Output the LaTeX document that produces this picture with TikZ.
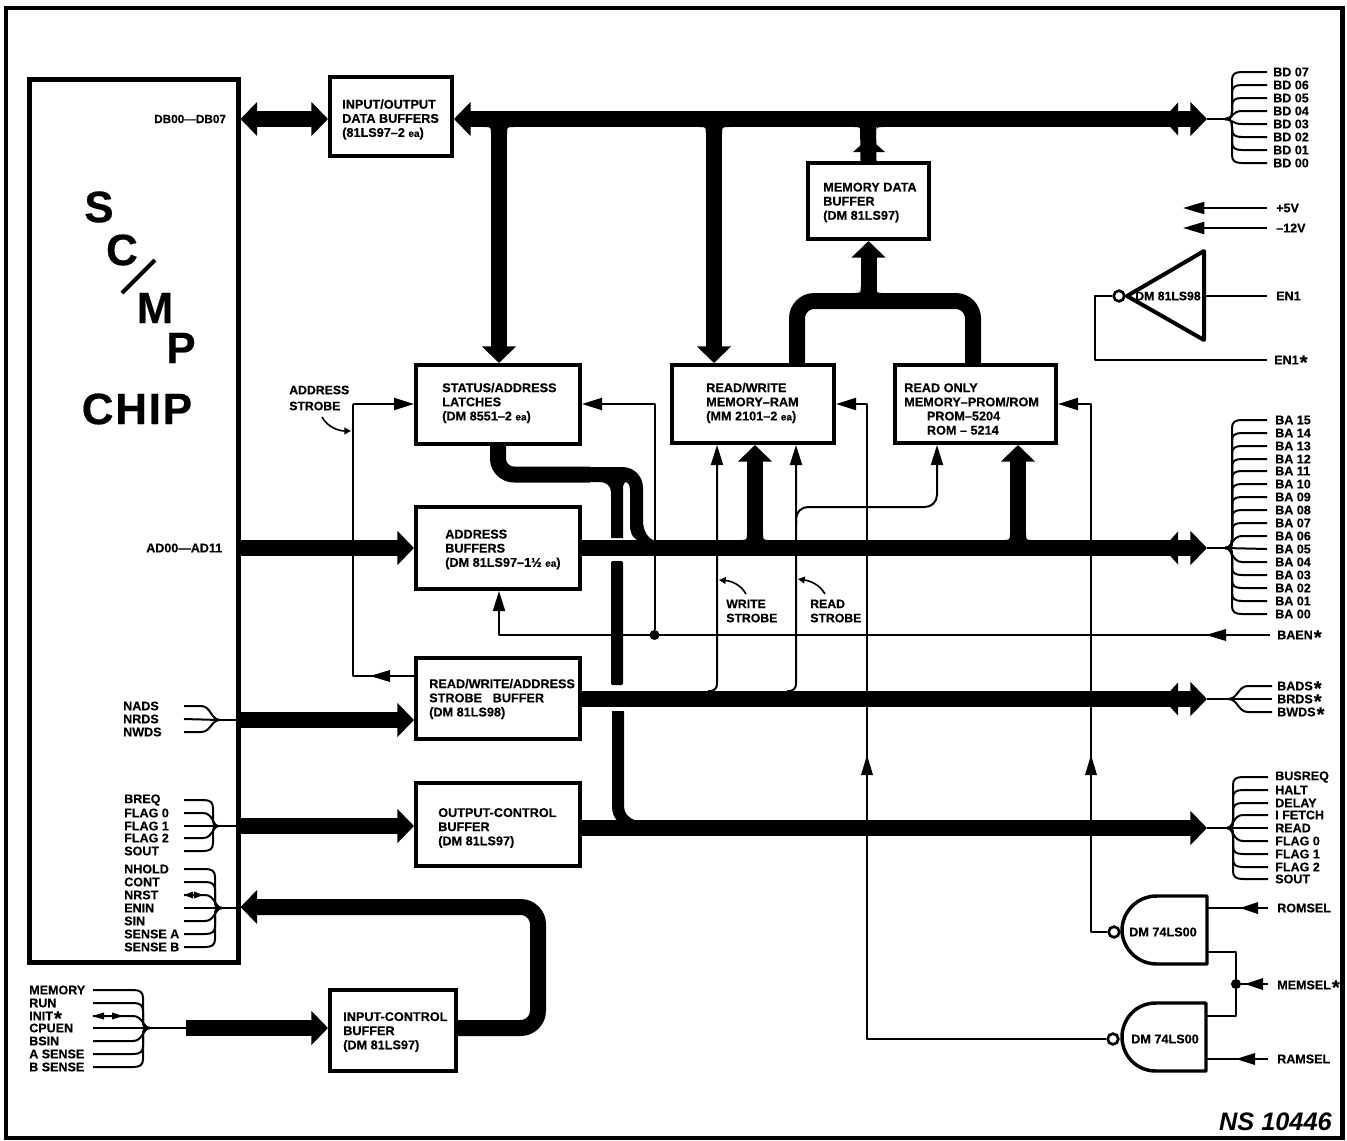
\documentclass[tikz,border=0pt]{standalone}
\usepackage{fontspec}
\setmainfont{Liberation Sans}[BoldFeatures={FakeBold=0.35}]
\usetikzlibrary{arrows.meta}
\tikzset{
  ba/.tip={Triangle[length=12.5pt,width=25pt]},
  sa/.tip={Triangle[length=15pt,width=9pt]},
  pa/.tip={Triangle[length=5pt,width=5pt]},
  bus/.style={line width=12pt,line join=round},
  wire/.style={line width=1.5pt,line join=round},
  thinw/.style={line width=1.2pt},
  blkbox/.style={draw,line width=3pt,rectangle,inner sep=0pt,fill=white},
  chipbox/.style={draw,line width=3.75pt,rectangle,inner sep=0pt},
  gate/.style={draw,line width=2.6pt,line join=round},
  bubble/.style={draw,circle,line width=2pt,minimum size=8pt,inner sep=0pt,fill=white},
  dot/.style={fill,circle,minimum size=7.5pt,inner sep=0pt},
  boxtxt/.style={anchor=west,align=left,inner sep=0pt,font=\fontsize{9.5pt}{10.6pt}\bfseries\selectfont},
  lst/.style={anchor=west,inner sep=0pt,font=\fontsize{9.4pt}{10pt}\bfseries\selectfont},
  big/.style={inner sep=0pt,font=\fontsize{33pt}{33pt}\bfseries\selectfont},
}
\newcommand\st{\hspace{0.8pt}\smash{\raisebox{-3.6pt}{\fontsize{15pt}{15pt}\selectfont *}}}
\newcommand\sm[1]{{\fontsize{7.5pt}{8pt}\selectfont #1}}
% name, x1,y1,x2,y2
\newcommand\blk[6][blkbox]{%
  \pgfmathsetmacro\cxx{(#3+#5)/2}\pgfmathsetmacro\cyy{(#4+#6)/2}%
  \pgfmathsetmacro\wdd{(#5-#3)*0.75-3}\pgfmathsetmacro\htt{(#6-#4)*0.75-3}%
  \node[#1,minimum width=\wdd pt,minimum height=\htt pt] (#2) at (\cxx,\cyy) {};}
% name, fanx, fany, spinex, endx, labelx, list of y/label
\newcommand\fan[7]{%
  \coordinate (#1) at (#2,#3);
  \pgfmathsetmacro\sx{(#5>#4)?1:-1}%
  \foreach \yy/\lb [count=\ii] in {#7} {%
    \pgfmathsetmacro\dd{\yy-#3}%
    \pgfmathsetmacro\sg{(\dd>0)?1:-1}%
    \pgfmathsetmacro\ad{abs(\dd)}%
    \coordinate (#1-\ii) at (#5,\yy);
    \node[lst] (#1-l\ii) at (#6,\yy) {\lb};
    \ifdim\ad pt<1.5pt
      \draw[wire] (#1) -- (#1-\ii);
    \else\ifdim\ad pt<14.5pt
      \draw[wire] (#1) .. controls (#4,#3) and (#4,\yy) .. (#4+\sx*10,\yy) -- (#1-\ii);
    \else
      \draw[wire] (#1) .. controls (#4,#3) and (#4,#3+\sg*3) .. (#4,#3+\sg*8) -- (#4,\yy-\sg*8)
        .. controls (#4,\yy-\sg*2) and (#4+\sx*3,\yy) .. (#4+\sx*10,\yy) -- (#1-\ii);
    \fi\fi
  }}
% fillets beside a stem meeting a bus: x centre, half width, y of bus edge, direction
\newcommand\tjoin[4]{%
  \fill (#1-#2,#3) -- (#1-#2-7,#3) .. controls (#1-#2,#3) .. (#1-#2,#3+#4*7) -- cycle;
  \fill (#1+#2,#3) -- (#1+#2+7,#3) .. controls (#1+#2,#3) .. (#1+#2,#3+#4*7) -- cycle;}
% in-line arrowhead: tip x, y, length signed, half width
\newcommand\hh[4]{\fill (#1,#2) -- (#1+#3,#2-#4) -- (#1+#3,#2+#4) -- cycle;}
\newcommand\hv[4]{\fill (#1,#2) -- (#1-#4,#2+#3) -- (#1+#4,#2+#3) -- cycle;}
\begin{document}
\begin{tikzpicture}[x=0.75pt,y=-0.75pt]
\useasboundingbox (0,0) rectangle (1347,1140);
\fill[white] (0,0) rectangle (1347,1140);
% frame
\node[draw,line width=3.2pt,rectangle,inner sep=0pt,minimum width=1002.4pt,minimum height=847.5pt] (frame) at (674.3,573) {};
% coordinates of the bus lines
\coordinate (yD) at (0,119);
\coordinate (yA) at (0,548);
\coordinate (yS) at (0,699);
\coordinate (yN) at (0,720);
\coordinate (yO) at (0,828);
\coordinate (yC) at (0,826);
\coordinate (tD) at (1207,119);
\coordinate (tA) at (1207,548);
\coordinate (tS) at (1207,699);
\coordinate (tO) at (1207,828);
% thick buses first, boxes on top
\coordinate (s1) at (499,119);
\coordinate (s2) at (714,119);
\coordinate (s3) at (868,119);
\coordinate (s4) at (755,548);
\coordinate (s5) at (1018,548);
\blk[chipbox]{chip}{27}{77}{240}{964}
\blk{io}{328}{75}{454}{158}
\blk{mdb}{806}{161}{931}{241}
\blk{lat}{414}{363}{582}{446}
\blk{ram}{670}{363}{836}{445}
\blk{rom}{893}{363}{1058}{445}
\blk{adr}{414}{505}{582}{591}
\blk{rws}{414}{656}{582}{741}
\blk{out}{414}{781}{582}{868}
\blk{inp}{328}{988}{458}{1073}
% chip to I/O buffers
\draw[bus,{ba}-{ba}] (chip.east |- yD) -- (io.west |- yD);
% data bus
\draw[bus,{ba}-{ba}] (io.east |- yD) -- (tD);
\hh{1163}{119}{15}{16.5}
\draw[bus,-{ba}] (s1) -- (s1 |- lat.north);
\draw[bus,-{ba}] (s2) -- (s2 |- ram.north);
\tjoin{499}{8}{127}{1}
\tjoin{714}{8}{127}{1}
% memory data buffer
\draw[bus] (mdb.north) -- (s3);
\hv{869}{138}{14}{16}
\tjoin{868.5}{8}{127}{1}
\coordinate (mj) at (868.5,301);
\draw[bus,rounded corners=13pt] (ram.north -| 797,0) |- (mj) -| (rom.north -| 973,0);
\draw[bus,-{ba}] (mj) -- (mj |- mdb.south);
\tjoin{868.5}{8}{293}{-1}
% address bus
\draw[bus,-{ba}] (chip.east |- yA) -- (adr.west |- yA);
\draw[bus,-{ba}] (adr.east |- yA) -- (tA);
\hh{1163}{548}{15}{16.5}
\draw[bus,-{ba}] (s4) -- (s4 |- ram.south);
\draw[bus,-{ba}] (s5) -- (s5 |- rom.south);
\tjoin{755}{8}{540}{-1}
\tjoin{1018}{8}{540}{-1}
% latches outputs
\coordinate (lj) at (590,474.5);
\draw[bus,rounded corners=12pt] (lat.south) -- (lat.south |- lj) -- (lj);
\fill (590,467) -- (622,467) .. controls (634,467) and (643,476) .. (643,488) -- (643,520)
  .. controls (643,530) and (647,538) .. (655,541) -- (640,541)
  .. controls (634,540) and (630,534) .. (630,525) -- (630,490)
  .. controls (630,485) and (628,482) .. (625,482) -- (623,486) -- (623,538) -- (611,538)
  -- (611,492) .. controls (611,486) and (606,482) .. (600,482) -- (590,482) -- cycle;
\fill[rounded corners=1pt] (611,561) rectangle (623,685);
\fill (612,711) -- (624,711) -- (624,806) .. controls (624,813) and (628,818) .. (636,820.5)
  -- (617,820.5) .. controls (614,817) and (612,813) .. (612,806) -- cycle;
% read/write/address strobes
\draw[bus,-{ba}] (chip.east |- yN) -- (rws.west |- yN);
\draw[bus,-{ba}] (rws.east |- yS) -- (tS);
\hh{1163}{699}{15}{16.5}
% output control
\draw[bus,-{ba}] (chip.east |- yC) -- (out.west |- yC);
\draw[bus,-{ba}] (out.east |- yO) -- (tO);
% input control
\coordinate (yI) at (0,1028);
\coordinate (ib) at (186,1028);
\draw[bus,-{ba}] (ib) -- (inp.west |- ib);
\draw[bus,rounded corners=13pt,-{ba}] (inp.east |- yI) -- (538,1028) -- (538,907) -- (chip.east |- 0,907);
% strobes
\coordinate (wr) at (717,691);
\coordinate (rd) at (796,691);
\draw[wire,rounded corners=5pt,-{sa}] (708,691) -| (wr |- ram.south);
\draw[wire,rounded corners=5pt,-{sa}] (787,691) -| (rd |- ram.south);
\coordinate (rr) at (937,507);
\draw[wire,rounded corners=9pt,-{sa}] (796,525) |- (rr) -- (rr |- rom.south);
% address strobe
\coordinate (as) at (353,404);
\draw[wire] (rws.west |- 0,676) -- (as |- 0,676) -- (as);
\hh{370}{676}{20}{6}
\draw[wire,-{sa}] (as) -- (lat.west |- as);
% BAEN
\node[lst] (baen) at (1277,635) {BAEN\st};
\coordinate (be) at (1270,635);
\node[dot] (bd) at (654.5,635) {};
\draw[wire,-{sa}] (be) -- (499,635) -- (adr.south -| 499,0);
\hh{1206}{635}{20}{6}
\draw[wire,-{sa}] (bd) -- (654.5,404) -- (lat.east |- 0,404);
% RAM and ROM selects
\draw[gate] (1206,1003) -- (1156,1003) .. controls (1135,1003) and (1122,1020) .. (1122,1037)
  .. controls (1122,1054) and (1135,1071) .. (1156,1071) -- (1206,1071) -- cycle;
\draw[gate] (1207,896) -- (1157,896) .. controls (1136,896) and (1122,913) .. (1122,930)
  .. controls (1122,947) and (1136,964) .. (1157,964) -- (1207,964) -- cycle;
\node[bubble] (b2) at (1113,1039) {};
\node[bubble] (b1) at (1114,932) {};
\node[inner sep=0pt,font=\fontsize{9.5pt}{10pt}\bfseries\selectfont] (t1) at (1163,932) {DM 74LS00};
\node[inner sep=0pt,font=\fontsize{9.5pt}{10pt}\bfseries\selectfont] (t2) at (1165,1039) {DM 74LS00};
\draw[wire,-{sa}] (b2) -- (867,1039) -- (867,404) -- (ram.east |- 0,404);
\hv{867}{755}{20}{6}
\draw[wire,-{sa}] (b1) -- (1091,932) -- (1091,404) -- (rom.east |- 0,404);
\hv{1091}{755}{20}{6}
\node[lst] (romsel) at (1277,908) {ROMSEL};
\node[lst] (ramsel) at (1277,1059) {RAMSEL};
\node[lst] (memsel) at (1277,985) {MEMSEL\st};
\coordinate (romw) at (1268,908);
\coordinate (ramw) at (1268,1059);
\coordinate (memw) at (1268,984);
\node[dot] (md) at (1236,984) {};
\draw[wire] (1207,908) -- (romw);
\hh{1240}{908}{18}{6}
\draw[wire] (1206,1059) -- (ramw);
\hh{1236}{1059}{19}{6}
\draw[wire] (memw) -- (md);
\hh{1245}{984}{18}{6}
\draw[wire] (1207,952) -| (md) |- (1206,1016);
% power
\node[lst] (p5) at (1276,208) {+5V};
\node[lst] (m12) at (1276,228) {--12V};
\coordinate (p5e) at (1267,208);
\coordinate (m12e) at (1267,228);
\draw[wire,-{Triangle[length=16pt,width=9pt]}] (p5e) -- (1183,208);
\draw[wire,-{Triangle[length=16pt,width=9pt]}] (m12e) -- (1183,228);
% inverter
\draw[gate,line width=3pt] (1127,296) -- (1204,251) -- (1204,340) -- cycle;
\node[bubble] (b3) at (1119,296) {};
\node[inner sep=0pt,font=\fontsize{9.2pt}{10pt}\bfseries\selectfont] (t3) at (1168,296) {DM 81LS98};
\node[lst] (en1) at (1276,296) {EN1};
\node[lst] (en1s) at (1274,360) {EN1\st};
\coordinate (en1e) at (1267,296);
\coordinate (en1se) at (1267,360);
\draw[wire] (1204,296) -- (en1e);
\draw[wire] (b3) -- (1095,296) |- (en1se);
% fans
\fan{fBD}{1225}{119}{1232}{1267}{1273}{72/BD 07,85/BD 06,98/BD 05,111/BD 04,124/BD 03,137/BD 02,150/BD 01,163/BD 00}
\draw[wire] (tD) -- (fBD);
\fan{fBA}{1225}{548}{1232}{1267}{1275}{420/BA 15,433/BA 14,446/BA 13,459/BA 12,471/BA 11,484/BA 10,497/BA 09,510/BA 08,523/BA 07,536/BA 06,549/BA 05,562/BA 04,575/BA 03,588/BA 02,601/BA 01,614/BA 00}
\draw[wire] (tA) -- (fBA);
\fan{fBS}{1228}{699}{1238}{1272}{1277}{686/BADS\st,699/BRDS\st,712/BWDS\st}
\draw[wire] (tS) -- (fBS);
\fan{fOU}{1227}{828}{1233}{1268}{1275}{777/BUSREQ,790/HALT,803/DELAY,815/I FETCH,828/READ,841/FLAG 0,854/FLAG 1,867/FLAG 2,879/SOUT}
\draw[wire] (tO) -- (fOU);
\fan{fNA}{220}{720}{211}{184}{123}{706/NADS,719/NRDS,732/NWDS}
\draw[wire] (fNA) -- (chip.east |- fNA);
\fan{fBR}{218}{826}{213}{184}{124}{800/BREQ,813/FLAG 0,826/FLAG 1,838/FLAG 2,851/SOUT}
\draw[wire] (fBR) -- (chip.east |- fBR);
\fan{fNH}{222}{908}{215}{184}{124}{869/NHOLD,882/CONT,895/NRST,908/ENIN,921/SIN,934/SENSE A,947/SENSE B}
\draw[wire] (fNH) -- (chip.east |- fNH);
\hh{184}{895}{9}{3.5}
\hh{203}{895}{-9}{3.5}
\fan{fME}{150}{1028}{143}{93}{29}{990/MEMORY,1003/RUN,1016/INIT\st,1028/CPUEN,1041/BSIN,1054/A SENSE,1067/B SENSE}
\draw[wire] (fME) -- (ib);
\hh{92}{1016}{12}{3.5}
\hh{123}{1016}{-11}{3.5}
% pointers
\draw[thinw,-{pa}] (322,417) .. controls (328,428) and (340,431) .. (351,431);
\draw[thinw,-{pa}] (746,594) .. controls (741,585) and (732,581) .. (719,580);
\draw[thinw,-{pa}] (825,594) .. controls (820,585) and (811,581) .. (798,579);
% box texts
\node[boxtxt] (tio) at (342,119.5) {INPUT/OUTPUT\\DATA BUFFERS\\(81LS97--2 \sm{ea})};
\node[boxtxt] (tmdb) at (823,202.5) {MEMORY DATA\\BUFFER\\(DM 81LS97)};
\node[boxtxt] (tlat) at (442,403) {STATUS/ADDRESS\\LATCHES\\(DM 8551--2 \sm{ea})};
\node[boxtxt] (tram) at (706,403) {READ/WRITE\\MEMORY--RAM\\(MM 2101--2 \sm{ea})};
\node[boxtxt] (trom) at (904,409) {READ ONLY\\MEMORY--PROM/ROM\\\hspace*{17pt}PROM--5204\\\hspace*{17pt}ROM -- 5214};
\node[boxtxt] (tadr) at (445,549.5) {ADDRESS\\BUFFERS\\(DM 81LS97--1½ \sm{ea})};
\node[boxtxt] (trws) at (429,699) {READ/WRITE/ADDRESS\\STROBE\hspace{8pt}BUFFER\\(DM 81LS98)};
\node[boxtxt] (tout) at (438,828) {OUTPUT-CONTROL\\BUFFER\\(DM 81LS97)};
\node[boxtxt] (tinp) at (343,1032) {INPUT-CONTROL\\BUFFER\\(DM 81LS97)};
% free labels
\node[lst,font=\fontsize{8.8pt}{10pt}\bfseries\selectfont] (ldb) at (154,119) {DB00---DB07};
\node[lst] (lad) at (146,548) {AD00---AD11};
\node[boxtxt,font=\fontsize{9.2pt}{12pt}\bfseries\selectfont] (las) at (289,398) {ADDRESS\\STROBE};
\node[boxtxt,font=\fontsize{9.2pt}{10.6pt}\bfseries\selectfont] (lws) at (726,611) {WRITE\\STROBE};
\node[boxtxt,font=\fontsize{9.2pt}{10.6pt}\bfseries\selectfont] (lrs) at (810,611) {READ\\STROBE};
% big lettering
\node[big] (bS) at (99,207) {S};
\node[big] (bC) at (122,250) {C};
\node[big] (bM) at (155,308) {M};
\node[big] (bP) at (181,348) {P};
\node[big,font=\fontsize{33pt}{33pt}\bfseries\addfontfeature{LetterSpace=4}\selectfont] (bCH) at (137,409) {CHIP};
\coordinate (sl1) at (122,293);
\coordinate (sl2) at (155,260);
\draw[line width=3pt] (sl1) -- (sl2);
\node[inner sep=0pt,anchor=east,font=\fontsize{19pt}{19pt}\bfseries\itshape\selectfont] (ns) at (1332,1122) {NS 10446};
\end{tikzpicture}
\end{document}
